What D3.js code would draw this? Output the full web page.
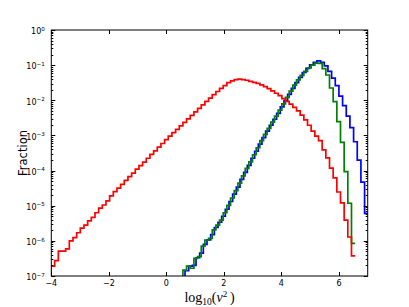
<!DOCTYPE html>
<html><head><meta charset="utf-8">
<script src="https://cdn.jsdelivr.net/npm/d3@7"></script>
<style>body{margin:0;background:#fff} svg{display:block}</style>
</head><body><svg id="c" width="409" height="307"></svg>
<script>
// ---- data (log10 of fraction per histogram bin) ----
const xTicks = [-4, -2, 0, 2, 4, 6];
const yExponents = [-7, -6, -5, -4, -3, -2, -1, 0];
const binWidth = 0.1274;
const redStart = -4.0104;
const greenStart = 0.5760;
const blueStart = 0.649;
const redLog = [
 -6.72,-6.56,-6.29,-6.29,-6.23,-6.00,-5.91,-5.77,-5.64,-5.55,-5.43,-5.33,-5.20,-5.07,-4.98,-4.86,-4.72,-4.60,
 -4.50,-4.39,-4.28,-4.17,-4.07,-3.96,-3.86,-3.76,-3.65,-3.54,-3.44,-3.33,-3.23,-3.12,
 -3.02,-2.92,-2.83,-2.73,-2.63,-2.53,-2.43,-2.33,-2.23,-2.13,-2.03,-1.94,-1.84,-1.75,-1.66,
 -1.58,-1.50,-1.45,-1.41,-1.40,-1.41,-1.43,-1.46,-1.49,-1.52,-1.56,-1.61,-1.67,-1.73,-1.80,-1.87,
 -1.95,-2.03,-2.11,-2.20,-2.30,-2.42,-2.56,-2.71,-2.88,-3.02,
 -3.15,-3.41,-3.64,-3.93,-4.21,-4.61,-4.92,-5.41,-5.89,-6.43
];
const greenLog = [
 -6.83,-6.72,-6.78,-6.50,-6.45,-6.15,-5.98,-5.93,-5.69,-5.55,-5.41,
 -5.20,-4.99,-4.78,-4.57,-4.36,-4.15,-3.94,-3.75,-3.55,-3.35,-3.15,
 -2.97,-2.80,-2.62,-2.45,-2.28,-2.10,-1.92,-1.74,-1.57,-1.42,-1.29,-1.18,
 -1.08,-1.00,-0.94,-0.95,-1.10,-1.28,-1.65,-2.04,-2.61,-3.20,-4.03,-4.93,-6.07
];
const blueLog = [
 -6.85,-6.72,-6.70,-6.48,-6.35,-6.10,-5.97,-5.82,-5.62,-5.47,
 -5.30,-5.10,-4.88,-4.67,-4.47,-4.25,-4.05,-3.85,-3.65,-3.45,
 -3.25,-3.06,-2.88,-2.71,-2.54,-2.37,-2.19,-2.01,-1.83,-1.66,
 -1.50,-1.35,-1.21,-1.09,-0.99,-0.92,-0.88,-0.92,-1.02,-1.18,
 -1.37,-1.58,-1.88,-2.15,-2.45,-2.78,-3.18,-3.70,-4.33,-5.22
];

// ---- layout ----
const M = {l: 51.3, r: 367.7, t: 30, b: 276};
const svg = d3.select('#c');
const x = d3.scaleLinear().domain([-4, 7]).range([M.l, M.r]);
const y = d3.scaleLog().domain([1e-7, 1]).range([M.b, M.t]);

svg.append('defs').append('clipPath').attr('id', 'clip')
  .append('rect').attr('x', M.l).attr('y', M.t).attr('width', M.r - M.l).attr('height', M.b - M.t);

function stepPoints(start, logs, fromBottom) {
  const pts = [];
  if (fromBottom) pts.push([start, 1e-9]);
  logs.forEach((v, i) => {
    const val = Math.pow(10, v);
    pts.push([start + i * binWidth, val]);
    pts.push([start + (i + 1) * binWidth, val]);
  });
  return pts;
}
const line = d3.line().x(d => x(d[0])).y(d => y(d[1]));
const g = svg.append('g').attr('clip-path', 'url(#clip)');
[[blueStart, blueLog, '#0000ff'], [greenStart, greenLog, '#008000'], [redStart, redLog, '#ff0000']]
  .forEach(([s, arr, col]) => {
    g.append('path').attr('d', line(stepPoints(s, arr, true)))
      .attr('fill', 'none').attr('stroke', col).attr('stroke-width', 1.7)
      .attr('stroke-linejoin', 'miter');
  });

// ---- frame & ticks ----
const ax = svg.append('g').attr('stroke', '#000').attr('stroke-width', 1).attr('fill', 'none');
ax.append('rect').attr('x', M.l).attr('y', M.t).attr('width', M.r - M.l).attr('height', M.b - M.t);
const yMinor = [];
yExponents.slice(0, -1).forEach(e => { for (let k = 2; k <= 9; k++) yMinor.push(k * Math.pow(10, e)); });
yMinor.forEach(v => {
  const yy = Math.round(y(v)) + 0.5;
  ax.append('line').attr('x1', M.l).attr('x2', M.l + 2).attr('y1', yy).attr('y2', yy);
  ax.append('line').attr('x1', M.r).attr('x2', M.r - 2).attr('y1', yy).attr('y2', yy);
});
yExponents.forEach(e => {
  const yy = Math.round(y(Math.pow(10, e))) + 0.5;
  ax.append('line').attr('x1', M.l).attr('x2', M.l + 4).attr('y1', yy).attr('y2', yy);
  ax.append('line').attr('x1', M.r).attr('x2', M.r - 4).attr('y1', yy).attr('y2', yy);
});
xTicks.forEach(t => {
  const xx = Math.round(x(t)) + 0.5;
  ax.append('line').attr('x1', xx).attr('x2', xx).attr('y1', M.b).attr('y2', M.b - 4);
  ax.append('line').attr('x1', xx).attr('x2', xx).attr('y1', M.t).attr('y2', M.t + 4);
});

// ---- labels ----
const font = "'DejaVu Sans', sans-serif";
yExponents.forEach(e => {
  const t = svg.append('text').attr('x', M.l - 6.5).attr('y', y(Math.pow(10, e)) + 4.3)
    .attr('text-anchor', 'end').attr('font-family', font).attr('font-size', 8).attr('fill', '#000');
  t.append('tspan').text('10');
  t.append('tspan').attr('dy', -3.6).attr('font-size', 5.6).text(String(e).replace('-', '\u2212'));
});
xTicks.forEach(v => {
  svg.append('text').attr('x', x(v)).attr('y', M.b + 10).attr('text-anchor', 'middle')
    .attr('font-family', font).attr('font-size', 8).attr('fill', '#000')
    .text(String(v).replace('-', '\u2212'));
});
svg.append('text').attr('transform', `translate(26.5,${(M.t + M.b) / 2}) rotate(-90)`)
  .attr('text-anchor', 'middle').attr('font-family', font).attr('font-size', 11.5).attr('fill', '#000')
  .text('Fraction');
const xl = svg.append('text').attr('x', (M.l + M.r) / 2).attr('y', 301.5).attr('text-anchor', 'middle')
  .attr('font-family', "'Liberation Serif', 'DejaVu Serif', serif").attr('font-size', 14).attr('fill', '#000');
xl.append('tspan').text('log');
xl.append('tspan').attr('dy', 3).attr('font-size', 9.5).text('10');
xl.append('tspan').attr('dy', -3).text('(');
xl.append('tspan').attr('font-style', 'italic').text('v');
xl.append('tspan').attr('dy', -5).attr('font-size', 9).text('2');
xl.append('tspan').attr('dy', 5).text('\u2009)');
</script></body></html>
